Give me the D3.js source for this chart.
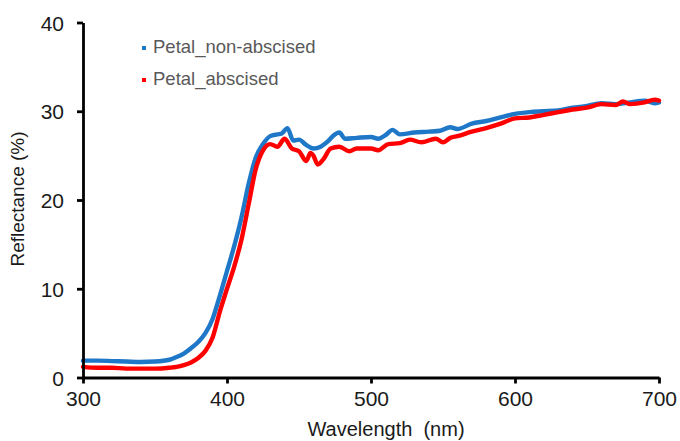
<!DOCTYPE html>
<html>
<head>
<meta charset="utf-8">
<script src="https://cdn.jsdelivr.net/npm/d3@7"></script>
<style>
  body { margin: 0; background: #fff; }
  svg { display: block; font-family: "Liberation Sans", Arial, sans-serif; }
</style>
</head>
<body>
<svg id="chart" width="680" height="441"></svg>
<script>
// Reflectance spectra (wavelength nm, reflectance %)
const nonAbscisedWl = [300, 310, 320, 330, 340, 350, 360, 365, 370, 375, 380, 385, 390, 395, 400, 405, 410, 415, 420, 425, 430, 435, 438, 442, 446, 450, 455, 460, 465, 470, 475, 478, 482, 490, 500, 505, 510, 515, 520, 530, 540, 548, 555, 560, 570, 580, 590, 600, 610, 620, 630, 640, 650, 660, 670, 680, 690, 697, 700];
const nonAbscisedVal = [1.9, 1.9, 1.85, 1.8, 1.75, 1.8, 2.0, 2.3, 2.7, 3.3, 4.0, 5.0, 6.6, 9.2, 12.0, 14.8, 18.0, 21.8, 24.8, 26.3, 27.2, 27.4, 27.5, 28.1, 26.7, 26.8, 26.2, 25.8, 26.0, 26.6, 27.4, 27.6, 26.9, 27.0, 27.1, 26.9, 27.3, 27.9, 27.4, 27.6, 27.7, 27.8, 28.2, 28.0, 28.6, 28.9, 29.3, 29.7, 29.9, 30.0, 30.1, 30.4, 30.6, 30.9, 30.8, 31.0, 31.2, 30.9, 31.0];

const abscisedWl = [300, 310, 320, 330, 340, 350, 360, 365, 370, 375, 380, 385, 390, 395, 400, 405, 410, 415, 420, 425, 430, 435, 440, 445, 450, 455, 458, 460, 463, 467, 472, 478, 485, 490, 500, 505, 512, 520, 527, 535, 545, 550, 555, 560, 570, 580, 590, 600, 610, 620, 630, 640, 650, 660, 670, 675, 680, 690, 697, 700];
const abscisedVal = [1.2, 1.1, 1.1, 1.0, 1.0, 1.0, 1.1, 1.2, 1.4, 1.7, 2.2, 3.0, 4.5, 7.4, 10.0, 12.5, 15.5, 19.5, 23.5, 25.6, 26.3, 26.0, 26.9, 25.8, 25.5, 24.4, 25.3, 25.0, 24.0, 24.6, 25.8, 26.0, 25.5, 25.8, 25.8, 25.6, 26.3, 26.4, 26.8, 26.5, 26.9, 26.5, 27.0, 27.2, 27.7, 28.1, 28.6, 29.2, 29.3, 29.6, 29.9, 30.2, 30.4, 30.8, 30.7, 31.1, 30.8, 31.0, 31.3, 31.2];

const xTicks = [300, 400, 500, 600, 700];
const yTicks = [0, 10, 20, 30, 40];
const seriesNames = ['Petal_non-abscised', 'Petal_abscised'];
const seriesColors = ['#1f77c8', '#ff0000'];

const svg = d3.select('#chart');
const margin = { left: 83, right: 21, top: 22.5, bottom: 63.5 };
const width = 680 - margin.left - margin.right;
const height = 441 - margin.top - margin.bottom;

const x = d3.scaleLinear().domain([300, 700]).range([0, width]);
const y = d3.scaleLinear().domain([0, 40]).range([height, 0]);

const g = svg.append('g').attr('transform', `translate(${margin.left},${margin.top})`);

const series = [
  { name: seriesNames[0], color: seriesColors[0], pts: nonAbscisedWl.map((w, i) => [w, nonAbscisedVal[i]]) },
  { name: seriesNames[1], color: seriesColors[1], pts: abscisedWl.map((w, i) => [w, abscisedVal[i]]) }
];

const line = d3.line().x(d => x(d[0])).y(d => y(d[1])).curve(d3.curveMonotoneX);

g.selectAll('path.series')
  .data(series)
  .enter()
  .append('path')
  .attr('class', 'series')
  .attr('d', d => line(d.pts))
  .attr('fill', 'none')
  .attr('stroke', d => d.color)
  .attr('stroke-width', 4.4)
  .attr('stroke-linejoin', 'round')
  .attr('stroke-linecap', 'round');

// axes
const xAxis = g.append('g')
  .attr('transform', `translate(0,${height})`)
  .call(d3.axisBottom(x).tickValues(xTicks).tickSize(6).tickSizeOuter(0).tickPadding(7));

const yAxis = g.append('g')
  .call(d3.axisLeft(y).tickValues(yTicks).tickSize(6).tickSizeOuter(0).tickPadding(13));

[xAxis, yAxis].forEach(ax => {
  ax.select('.domain').attr('stroke', '#000').attr('stroke-width', 2.8);
  ax.selectAll('.tick line').attr('stroke', '#000').attr('stroke-width', 2.8);
  ax.selectAll('.tick text')
    .attr('fill', '#1a1a1a')
    .style('font-size', '21px')
    .style('font-family', '"Liberation Sans", Arial, sans-serif');
});
yAxis.selectAll('.tick text').attr('dy', '0.36em');
xAxis.selectAll('.tick text').attr('dy', '0.72em');

// axis titles
svg.append('text')
  .attr('x', margin.left + width / 2 + 15)
  .attr('y', 436)
  .attr('text-anchor', 'middle')
  .attr('fill', '#1a1a1a')
  .style('font-size', '20px')
  .text('Wavelength\u00a0 (nm)');

svg.append('text')
  .attr('transform', `translate(24,${margin.top + height / 2 - 1}) rotate(-90)`)
  .attr('text-anchor', 'middle')
  .attr('fill', '#1a1a1a')
  .style('font-size', '19px')
  .text('Reflectance (%)');

// legend
const legend = svg.append('g');
series.forEach((s, i) => {
  const ly = 48 + i * 32;
  legend.append('rect')
    .attr('x', 142).attr('y', ly - 2)
    .attr('width', 4).attr('height', 4)
    .attr('fill', s.color);
  legend.append('text')
    .attr('x', 153).attr('y', ly + 5)
    .attr('fill', '#595959')
    .style('font-size', '18.5px')
    .text(s.name);
});
</script>
</body>
</html>
